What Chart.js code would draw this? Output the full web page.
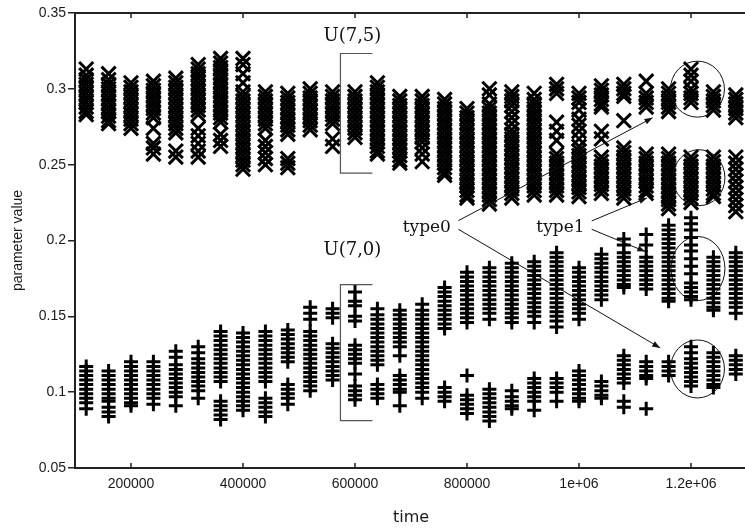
<!DOCTYPE html>
<html>
<head>
<meta charset="utf-8">
<script src="https://cdn.jsdelivr.net/npm/chart.js@4/dist/chart.umd.min.js"></script>
<style>
html, body { margin: 0; padding: 0; background: #fff; overflow: hidden; }
</style>
</head>
<body>
<canvas id="chart" width="760" height="529"></canvas>
<script>
// --- data ---
const times = [120000, 160000, 200000, 240000, 280000, 320000, 360000, 400000, 440000, 480000,
  520000, 560000, 600000, 640000, 680000, 720000, 760000, 800000, 840000, 880000,
  920000, 960000, 1000000, 1040000, 1080000, 1120000, 1160000, 1200000, 1240000, 1280000];

// "x" points (upper group), one list per time
const crossVals = [
  [0.313,0.309,0.306,0.303,0.300,0.297,0.294,0.291,0.288,0.285,0.283],
  [0.310,0.306,0.303,0.300,0.297,0.294,0.291,0.288,0.285,0.282,0.279,0.277],
  [0.304,0.301,0.298,0.295,0.292,0.289,0.286,0.283,0.280,0.277,0.274],
  [0.305,0.302,0.299,0.296,0.293,0.290,0.287,0.284,0.281,0.274,0.264,0.261,0.257],
  [0.307,0.304,0.301,0.298,0.295,0.292,0.289,0.286,0.283,0.280,0.277,0.274,0.271,0.259,0.255],
  [0.316,0.313,0.310,0.307,0.304,0.301,0.298,0.295,0.292,0.289,0.286,0.283,0.274,0.269,0.264,0.259,0.255],
  [0.320,0.317,0.314,0.311,0.308,0.305,0.302,0.299,0.296,0.293,0.290,0.287,0.284,0.281,0.278,0.270,0.266,0.262],
  [0.320,0.316,0.310,0.304,0.298,0.295,0.292,0.289,0.286,0.283,0.280,0.277,0.274,0.271,0.268,0.265,0.262,0.259,0.256,0.253,0.250,0.247],
  [0.298,0.295,0.292,0.289,0.286,0.283,0.280,0.277,0.274,0.266,0.262,0.258,0.254,0.250],
  [0.297,0.294,0.291,0.288,0.285,0.282,0.279,0.276,0.273,0.270,0.254,0.251,0.248],
  [0.300,0.297,0.294,0.291,0.288,0.285,0.282,0.279,0.276,0.273],
  [0.298,0.295,0.292,0.289,0.286,0.283,0.280,0.277,0.267,0.262],
  [0.298,0.295,0.292,0.289,0.286,0.283,0.280,0.277,0.274,0.271,0.268],
  [0.304,0.301,0.298,0.295,0.292,0.289,0.286,0.283,0.280,0.277,0.274,0.271,0.268,0.265,0.262,0.259,0.257],
  [0.295,0.292,0.289,0.286,0.283,0.280,0.277,0.274,0.271,0.268,0.265,0.262,0.259,0.256,0.253,0.251],
  [0.295,0.292,0.289,0.286,0.283,0.280,0.277,0.274,0.271,0.268,0.265,0.261,0.257,0.252],
  [0.293,0.290,0.287,0.284,0.281,0.278,0.275,0.272,0.269,0.266,0.263,0.260,0.257,0.254,0.251,0.248,0.245,0.243],
  [0.287,0.284,0.281,0.278,0.275,0.272,0.269,0.266,0.263,0.260,0.257,0.254,0.251,0.248,0.245,0.242,0.239,0.236,0.233,0.230,0.228],
  [0.300,0.296,0.290,0.287,0.284,0.281,0.278,0.275,0.272,0.269,0.266,0.263,0.260,0.257,0.254,0.251,0.248,0.245,0.242,0.239,0.236,0.233,0.230,0.227,0.224],
  [0.298,0.295,0.292,0.289,0.285,0.281,0.277,0.273,0.270,0.267,0.264,0.261,0.258,0.255,0.252,0.249,0.246,0.243,0.240,0.237,0.234,0.231,0.228],
  [0.297,0.293,0.290,0.287,0.284,0.281,0.278,0.275,0.272,0.269,0.266,0.263,0.260,0.257,0.254,0.251,0.248,0.245,0.242,0.239,0.236,0.233,0.230],
  [0.303,0.300,0.297,0.278,0.272,0.266,0.257,0.254,0.251,0.248,0.245,0.242,0.239,0.236,0.233,0.230],
  [0.297,0.294,0.291,0.286,0.280,0.276,0.272,0.267,0.262,0.259,0.256,0.253,0.250,0.247,0.244,0.241,0.238,0.235,0.232,0.229],
  [0.302,0.299,0.296,0.293,0.290,0.288,0.272,0.267,0.255,0.252,0.249,0.246,0.243,0.240,0.237,0.234,0.231],
  [0.303,0.300,0.297,0.295,0.279,0.261,0.258,0.255,0.252,0.249,0.246,0.243,0.240,0.237,0.234,0.231,0.228],
  [0.305,0.297,0.294,0.291,0.288,0.257,0.254,0.251,0.248,0.245,0.242,0.239,0.236,0.233,0.231],
  [0.300,0.297,0.294,0.291,0.288,0.285,0.257,0.254,0.251,0.248,0.245,0.242,0.239,0.236,0.233,0.230,0.227,0.224,0.221],
  [0.313,0.309,0.305,0.300,0.297,0.294,0.291,0.255,0.252,0.249,0.246,0.243,0.240,0.237,0.234,0.231,0.228,0.225],
  [0.298,0.295,0.292,0.289,0.286,0.255,0.252,0.249,0.246,0.243,0.240,0.237,0.234,0.231,0.229],
  [0.296,0.293,0.290,0.287,0.284,0.281,0.255,0.251,0.247,0.243,0.239,0.235,0.231,0.227,0.223,0.219]
];

// "+" points (lower group), one list per time
const plusVals = [
  [0.117,0.114,0.111,0.108,0.105,0.102,0.099,0.096,0.093,0.089],
  [0.114,0.111,0.108,0.105,0.102,0.099,0.096,0.094,0.090,0.087,0.084],
  [0.120,0.117,0.114,0.111,0.108,0.105,0.102,0.099,0.096,0.093,0.091],
  [0.120,0.117,0.114,0.111,0.108,0.105,0.102,0.099,0.096,0.092],
  [0.127,0.123,0.118,0.115,0.112,0.109,0.106,0.103,0.100,0.097,0.091],
  [0.130,0.126,0.122,0.119,0.116,0.113,0.110,0.107,0.104,0.101,0.096],
  [0.140,0.137,0.134,0.131,0.128,0.125,0.122,0.119,0.116,0.113,0.110,0.107,0.094,0.091,0.088,0.085,0.082],
  [0.139,0.136,0.133,0.130,0.127,0.124,0.121,0.118,0.115,0.112,0.109,0.106,0.103,0.100,0.097,0.094,0.091,0.088],
  [0.140,0.137,0.134,0.131,0.128,0.125,0.122,0.119,0.116,0.113,0.110,0.107,0.096,0.093,0.090,0.087,0.084],
  [0.141,0.138,0.135,0.132,0.129,0.126,0.123,0.120,0.105,0.102,0.099,0.096,0.092],
  [0.156,0.152,0.148,0.140,0.137,0.134,0.131,0.128,0.125,0.122,0.119,0.116,0.113,0.110,0.107,0.104,0.101],
  [0.155,0.152,0.149,0.132,0.129,0.126,0.123,0.120,0.117,0.114,0.111,0.108],
  [0.166,0.160,0.157,0.150,0.147,0.131,0.128,0.125,0.122,0.119,0.112,0.104,0.101,0.098,0.095],
  [0.155,0.151,0.148,0.145,0.142,0.139,0.136,0.133,0.130,0.127,0.124,0.121,0.118,0.105,0.102,0.099,0.096],
  [0.154,0.151,0.148,0.145,0.142,0.139,0.136,0.133,0.130,0.124,0.111,0.108,0.105,0.102,0.100,0.091],
  [0.158,0.154,0.151,0.148,0.145,0.142,0.139,0.136,0.133,0.130,0.127,0.124,0.121,0.118,0.115,0.112,0.109,0.106,0.103,0.100,0.096],
  [0.169,0.166,0.163,0.160,0.157,0.154,0.151,0.148,0.145,0.142,0.103,0.100,0.097,0.094],
  [0.179,0.176,0.173,0.170,0.167,0.164,0.161,0.158,0.155,0.152,0.149,0.146,0.111,0.098,0.095,0.092,0.089,0.086],
  [0.182,0.179,0.176,0.173,0.170,0.167,0.164,0.161,0.158,0.155,0.152,0.148,0.102,0.099,0.096,0.093,0.090,0.087,0.084,0.081],
  [0.185,0.182,0.179,0.176,0.173,0.170,0.167,0.164,0.161,0.158,0.155,0.152,0.149,0.146,0.101,0.097,0.094,0.091,0.089],
  [0.186,0.183,0.180,0.177,0.174,0.171,0.168,0.165,0.162,0.159,0.156,0.153,0.150,0.146,0.109,0.106,0.103,0.100,0.097,0.094,0.088],
  [0.192,0.189,0.186,0.183,0.180,0.177,0.174,0.171,0.168,0.165,0.162,0.159,0.156,0.153,0.150,0.147,0.143,0.109,0.106,0.103,0.100,0.094],
  [0.182,0.179,0.176,0.173,0.170,0.167,0.164,0.161,0.158,0.155,0.152,0.148,0.114,0.111,0.108,0.105,0.102,0.099,0.096,0.094],
  [0.191,0.188,0.185,0.182,0.179,0.176,0.173,0.170,0.167,0.164,0.161,0.107,0.104,0.101,0.098,0.096],
  [0.201,0.197,0.192,0.189,0.186,0.183,0.180,0.177,0.174,0.171,0.169,0.124,0.121,0.118,0.115,0.112,0.109,0.106,0.094,0.090],
  [0.204,0.197,0.189,0.186,0.183,0.180,0.177,0.174,0.171,0.168,0.120,0.117,0.114,0.111,0.109,0.089],
  [0.210,0.207,0.204,0.201,0.198,0.195,0.192,0.189,0.186,0.183,0.180,0.177,0.174,0.171,0.168,0.165,0.162,0.160,0.120,0.117,0.114,0.111],
  [0.215,0.211,0.207,0.202,0.197,0.193,0.188,0.183,0.178,0.172,0.169,0.166,0.163,0.161,0.130,0.126,0.122,0.119,0.116,0.113,0.110,0.107,0.104],
  [0.189,0.186,0.183,0.180,0.177,0.174,0.171,0.168,0.165,0.162,0.159,0.156,0.154,0.126,0.123,0.120,0.117,0.114,0.111,0.108,0.105,0.103],
  [0.192,0.189,0.186,0.183,0.180,0.177,0.174,0.171,0.168,0.165,0.162,0.159,0.156,0.152,0.124,0.121,0.118,0.115,0.112]
];

const xTicks = [200000, 400000, 600000, 800000, 1000000, 1200000];
const xTickText = ['200000', '400000', '600000', '800000', '1e+06', '1.2e+06'];
const yTicks = [0.05, 0.1, 0.15, 0.2, 0.25, 0.3, 0.35];
const yTickText = ['0.05', '0.1', '0.15', '0.2', '0.25', '0.3', '0.35'];

// annotations, in data units
const notes = [
  { text: 'U(7,5)', x: 595400, y: 0.3317 },
  { text: 'U(7,0)', x: 595400, y: 0.1905 },
  { text: 'type0', x: 728200, y: 0.2056 },
  { text: 'type1', x: 966800, y: 0.2056 }
];
const brackets = [
  { x0: 574000, x1: 631000, y0: 0.2444, y1: 0.3233 },
  { x0: 574000, x1: 631000, y0: 0.0812, y1: 0.1709 }
];
const arrows = [
  { x0: 784600, y0: 0.2131, x1: 1131400, y1: 0.2809 },
  { x0: 784600, y0: 0.2074, x1: 1145000, y1: 0.1292 },
  { x0: 1022700, y0: 0.2129, x1: 1121400, y1: 0.2281 },
  { x0: 1022700, y0: 0.2074, x1: 1118400, y1: 0.1927 }
];
const rings = [
  { x: 1211500, y: 0.2998, rx: 27, ry: 28 },
  { x: 1214200, y: 0.2414, rx: 26, ry: 28 },
  { x: 1212400, y: 0.1815, rx: 27, ry: 32 },
  { x: 1211500, y: 0.1153, rx: 27, ry: 29 }
];

function points(vals) {
  const out = [];
  vals.forEach((col, i) => col.forEach(v => out.push({ x: times[i], y: v })));
  return out;
}

const overlay = {
  id: 'overlay',
  afterDatasetsDraw(chart) {
    const { ctx, chartArea: a, scales: { x, y } } = chart;
    ctx.save();
    // top frame + inward x ticks (top and bottom)
    ctx.strokeStyle = '#222';
    ctx.lineWidth = 2;
    ctx.beginPath();
    ctx.moveTo(a.left - 1, a.top);
    ctx.lineTo(a.right, a.top);
    ctx.stroke();
    ctx.lineWidth = 1.5;
    ctx.beginPath();
    xTicks.forEach(v => {
      const px = x.getPixelForValue(v);
      ctx.moveTo(px, a.bottom);
      ctx.lineTo(px, a.bottom - 5);
      ctx.moveTo(px, a.top);
      ctx.lineTo(px, a.top + 5);
    });
    ctx.stroke();

    // brackets
    ctx.strokeStyle = '#555';
    ctx.lineWidth = 1.2;
    brackets.forEach(b => {
      const l = x.getPixelForValue(b.x0), r = x.getPixelForValue(b.x1);
      const t = y.getPixelForValue(b.y1), bt = y.getPixelForValue(b.y0);
      ctx.beginPath();
      ctx.moveTo(r, t); ctx.lineTo(l, t); ctx.lineTo(l, bt); ctx.lineTo(r, bt);
      ctx.stroke();
    });

    // arrows
    ctx.strokeStyle = '#111';
    ctx.fillStyle = '#111';
    ctx.lineWidth = 1;
    arrows.forEach(ar => {
      const x0 = x.getPixelForValue(ar.x0), y0 = y.getPixelForValue(ar.y0);
      const x1 = x.getPixelForValue(ar.x1), y1 = y.getPixelForValue(ar.y1);
      const ang = Math.atan2(y1 - y0, x1 - x0);
      ctx.beginPath();
      ctx.moveTo(x0, y0); ctx.lineTo(x1, y1);
      ctx.stroke();
      ctx.beginPath();
      ctx.moveTo(x1, y1);
      ctx.lineTo(x1 - 8 * Math.cos(ang) + 3 * Math.sin(ang), y1 - 8 * Math.sin(ang) - 3 * Math.cos(ang));
      ctx.lineTo(x1 - 8 * Math.cos(ang) - 3 * Math.sin(ang), y1 - 8 * Math.sin(ang) + 3 * Math.cos(ang));
      ctx.closePath();
      ctx.fill();
    });

    // circles
    rings.forEach(c => {
      ctx.beginPath();
      ctx.ellipse(x.getPixelForValue(c.x), y.getPixelForValue(c.y), c.rx, c.ry, 0, 0, Math.PI * 2);
      ctx.stroke();
    });

    // labels
    ctx.textAlign = 'center';
    ctx.textBaseline = 'alphabetic';
    notes.forEach(n => {
      ctx.font = (n.text[0] === 'U' ? '18px' : '17px') + ' "DejaVu Serif"';
      ctx.fillText(n.text, x.getPixelForValue(n.x), y.getPixelForValue(n.y));
    });
    ctx.restore();
  }
};

new Chart(document.getElementById('chart'), {
  type: 'scatter',
  data: {
    datasets: [
      {
        label: 'x',
        data: points(crossVals),
        pointStyle: 'crossRot',
        pointRadius: 10,
        pointBorderWidth: 3,
        pointBorderColor: '#000',
        pointBackgroundColor: 'rgba(0,0,0,0)'
      },
      {
        label: '+',
        data: points(plusVals),
        pointStyle: 'cross',
        pointRadius: 7,
        pointBorderWidth: 3,
        pointBorderColor: '#000',
        pointBackgroundColor: 'rgba(0,0,0,0)'
      }
    ]
  },
  options: {
    responsive: false,
    animation: false,
    events: [],
    layout: { padding: { top: 8, right: 8, left: 0, bottom: 0 } },
    plugins: { legend: { display: false }, tooltip: { enabled: false } },
    scales: {
      x: {
        type: 'linear',
        min: 100000,
        max: 1300000,
        afterFit(s) { s.height = 61; },
        afterBuildTicks(s) { s.ticks = xTicks.map(v => ({ value: v })); },
        grid: { display: true, drawOnChartArea: false, drawTicks: false, tickLength: 0 },
        border: { display: true, color: '#222', width: 2 },
        ticks: {
          autoSkip: false,
          maxRotation: 0,
          padding: 8,
          color: '#1a1a1a',
          font: { family: '"Liberation Sans", Arial, sans-serif', size: 14 },
          callback: v => xTickText[xTicks.indexOf(v)]
        },
        title: {
          display: true,
          text: 'time',
          color: '#1a1a1a',
          padding: { top: 0, bottom: 2 },
          font: { family: '"DejaVu Sans", sans-serif', size: 16 }
        }
      },
      y: {
        min: 0.05,
        max: 0.35,
        afterFit(s) { s.width = 75; },
        afterBuildTicks(s) { s.ticks = yTicks.map(v => ({ value: v })); },
        grid: { drawOnChartArea: false, tickLength: 7, color: '#222', lineWidth: 1.5 },
        border: { display: true, color: '#222', width: 2 },
        ticks: {
          padding: 2,
          color: '#1a1a1a',
          font: { family: '"Liberation Sans", Arial, sans-serif', size: 14 },
          callback: v => yTickText[yTicks.indexOf(v)]
        },
        title: {
          display: true,
          text: 'parameter value',
          color: '#1a1a1a',
          padding: { top: 10, bottom: 0 },
          font: { family: '"Liberation Sans", Arial, sans-serif', size: 14 }
        }
      }
    }
  },
  plugins: [overlay]
});
</script>
</body>
</html>
